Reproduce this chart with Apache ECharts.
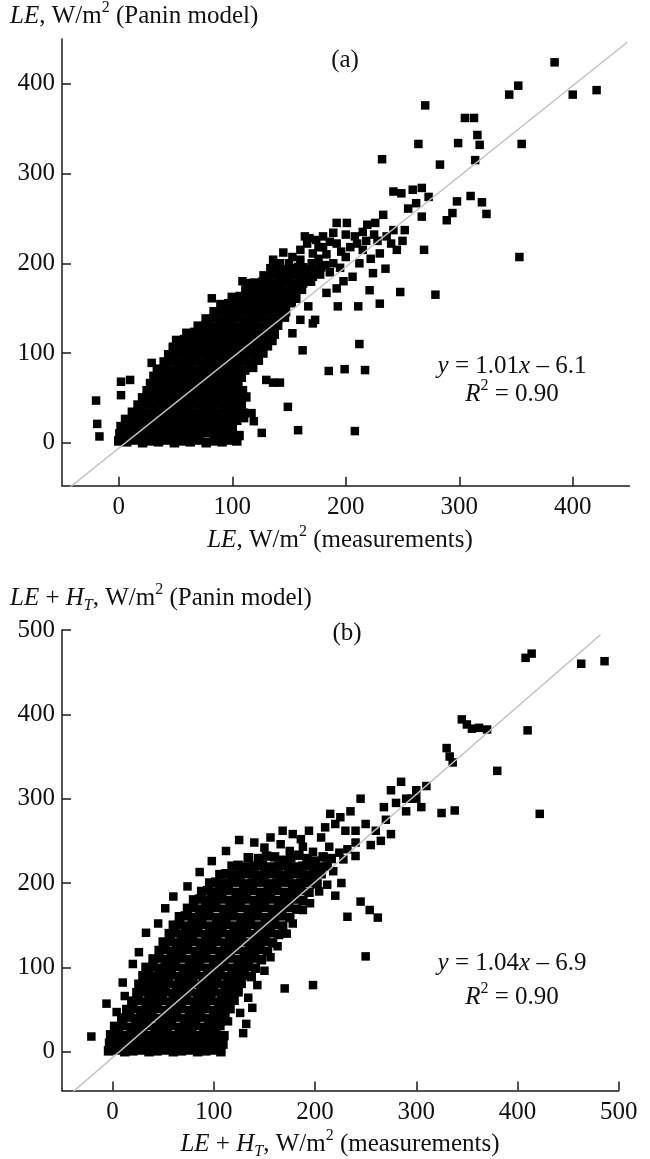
<!DOCTYPE html>
<html>
<head>
<meta charset="utf-8">
<script src="https://cdn.jsdelivr.net/npm/echarts@6/dist/echarts.min.js"></script>
<style>
  html, body { margin: 0; padding: 0; background: #fff; }
  #chart { width: 650px; height: 1159px; }
</style>
</head>
<body>
<div id="chart"></div>
<script>
// ---- tick values ----
const ticksAx = [0, 100, 200, 300, 400];
const ticksAy = [0, 100, 200, 300, 400];
const ticksBx = [0, 100, 200, 300, 400, 500];
const ticksBy = [0, 100, 200, 300, 400, 500];

// ---- fitted regression lines: [slope, intercept], drawn over [xStart, xEnd] ----
const fitA = [1.01, -6.1];
const fitB = [1.04, -6.9];
const fitSpanA = [-48, 448];
const fitSpanB = [-45, 482];

// ---- panel (a): LE, model vs measurements (W/m2) ----
// dense cloud of overlapping points
const coreA = [
  [0,2],[7,1],[14,3],[21,0],[28,2],[35,1],[42,3],[49,0],[56,2],[63,1],[70,3],[77,0],[84,2],[91,1],[98,3],[104,2],
  [1,10],[8,9],[15,11],[22,10],[29,9],[36,11],[43,10],[50,9],[57,11],[64,10],[71,9],[78,11],[85,10],[92,9],[99,11],[106,8],
  [2,18],[9,19],[16,17],[23,18],[30,19],[37,17],[44,18],[51,19],[58,17],[65,18],[72,19],[79,17],[86,18],[93,19],[100,17],
  [6,26],[13,27],[20,25],[27,26],[34,27],[41,25],[48,26],[55,27],[62,25],[69,26],[76,27],[83,25],[90,26],[97,27],[104,25],[110,28],
  [12,34],[19,35],[26,33],[33,34],[40,35],[47,33],[54,34],[61,35],[68,33],[75,34],[82,35],[89,33],[96,34],[103,35],[110,33],
  [17,42],[24,43],[31,41],[38,42],[45,43],[52,41],[59,42],[66,43],[73,41],[80,42],[87,43],[94,41],[101,42],[108,43],
  [21,50],[28,51],[35,49],[42,50],[49,51],[56,49],[63,50],[70,51],[77,49],[84,50],[91,51],[98,49],[105,50],[112,51],
  [25,58],[32,59],[39,57],[46,58],[53,59],[60,57],[67,58],[74,59],[81,57],[88,58],[95,59],[102,57],[109,58],
  [28,66],[35,67],[42,65],[49,66],[56,67],[63,65],[70,66],[77,67],[84,65],[91,66],[98,67],[105,65],
  [31,74],[38,75],[45,73],[52,74],[59,75],[66,73],[73,74],[80,75],[87,73],[94,74],[101,75],[108,73],
  [34,82],[41,83],[48,81],[55,82],[62,83],[69,81],[76,82],[83,83],[90,81],[97,82],[104,83],[111,81],[118,84],
  [40,90],[47,91],[54,89],[61,90],[68,91],[75,89],[82,90],[89,91],[96,89],[103,90],[110,91],[117,89],[123,92],
  [44,98],[51,99],[58,97],[65,98],[72,99],[79,97],[86,98],[93,99],[100,97],[107,98],[114,99],[121,97],[127,100],
  [48,106],[55,107],[62,105],[69,106],[76,107],[83,105],[90,106],[97,107],[104,105],[111,106],[118,107],[125,105],[131,108],
  [51,114],[58,115],[65,113],[72,114],[79,115],[86,113],[93,114],[100,115],[107,113],[114,114],[121,115],[128,113],[135,114],
  [60,122],[67,123],[74,121],[81,122],[88,123],[95,121],[102,122],[109,123],[116,121],[123,122],[130,123],[137,121],
  [70,130],[77,131],[84,129],[91,130],[98,131],[105,129],[112,130],[119,131],[126,129],[133,130],[140,131],
  [77,138],[84,139],[91,137],[98,138],[105,139],[112,137],[119,138],[126,139],[133,137],[140,138],[146,140],
  [84,146],[91,147],[98,145],[105,146],[112,147],[119,145],[126,146],[133,147],[140,145],[147,146],
  [90,154],[97,155],[104,153],[111,154],[118,155],[125,153],[132,154],[139,155],[146,153],[152,156],
  [100,162],[107,163],[114,161],[121,162],[128,163],[135,161],[142,162],[149,163],[156,161],
  [112,170],[119,171],[126,169],[133,170],[140,171],[147,169],[154,170],[161,171],
  [120,178],[127,179],[134,177],[141,178],[148,179],[155,177],[162,178],[169,180],
  [128,186],[135,187],[142,185],[149,186],[156,187],[163,185],[170,186],[177,188],
  [134,194],[141,195],[148,193],[155,194],[162,195],[170,193],[178,196]
];
// sparser points around the cloud
const scatterA = [
  [-20,47],[-19,21],[-17,7],[2,53],[2,68],[10,70],[29,89],[45,96],[48,107],[60,113],[77,124],
  [82,161],[92,148],[109,180],[127,159],[124,170],[162,103],[167,152],[173,137],[149,40],
  [136,67],[142,67],[130,70],[117,33],[119,24],[126,11],[158,14],[208,13],[185,80],[199,82],
  [217,81],[212,110],[160,137],[153,122],[171,133],
  [136,204],[142,200],[153,207],[160,204],[171,211],[180,218],[192,222],[204,218],[215,215],
  [230,211],[235,194],[224,189],[206,185],[198,180],[192,172],[183,167],[171,185],[160,181],
  [148,185],[139,193],[130,178],[113,178],[189,200],[212,200],[221,170],[211,152],[230,155],
  [193,152],[248,168],[279,165],[269,215],
  [145,212],[150,200],[158,196],[166,222],[170,200],[176,205],[183,210],[186,190],[195,195],
  [200,207],[210,222],[218,225],[222,205],[228,225],[236,230],[240,222],[245,215],[250,225],
  [196,213],[180,230],[186,224],[176,218],[200,232],[215,235],[225,232],[160,215],[182,198],
  [270,376],[264,333],[232,316],[283,310],[242,280],[249,278],[259,282],[267,284],[273,274],
  [262,267],[255,261],[267,252],[298,269],[289,248],[294,256],[299,334],[233,254],[226,245],
  [219,243],[252,237],[242,237],[201,245],[192,245],[189,234],[208,230],[168,228],[164,230],[174,226],
  [384,424],[344,388],[352,398],[400,388],[421,393],[355,333],[313,362],[305,362],[316,343],
  [318,332],[314,315],[310,275],[320,268],[353,207],[324,255]
];

// ---- panel (b): LE + H_T, model vs measurements (W/m2) ----
const coreB = [
  [-4,1],[4,2],[12,0],[20,1],[28,2],[36,0],[44,1],[52,2],[60,0],[68,1],[76,2],[84,0],[92,1],[100,2],[107,0],
  [-3,10],[5,11],[13,9],[21,10],[29,11],[37,9],[45,10],[53,11],[61,9],[69,10],[77,11],[85,9],[93,10],[101,11],[109,9],
  [-2,20],[6,21],[14,19],[22,20],[30,21],[38,19],[46,20],[54,21],[62,19],[70,20],[78,21],[86,19],[94,20],[102,21],[110,19],
  [2,30],[10,31],[18,29],[26,30],[34,31],[42,29],[50,30],[58,31],[66,29],[74,30],[82,31],[90,29],[98,30],[106,31],
  [9,40],[17,41],[23,39],[31,40],[39,41],[47,39],[55,40],[63,41],[71,39],[79,40],[87,41],[95,39],[103,40],[111,41],
  [14,50],[20,51],[28,49],[36,50],[44,51],[52,49],[60,50],[68,51],[76,49],[84,50],[92,51],[100,49],[108,50],[116,51],
  [19,60],[25,61],[33,59],[41,60],[49,61],[57,59],[65,60],[73,61],[81,59],[89,60],[97,61],[105,59],[113,60],[120,61],
  [24,70],[30,71],[36,69],[44,70],[52,71],[60,69],[68,70],[76,71],[84,69],[92,70],[100,71],[108,69],[116,70],[124,71],
  [26,80],[33,81],[39,79],[47,80],[55,81],[63,79],[71,80],[79,81],[87,79],[95,80],[103,81],[111,79],[119,80],[127,81],
  [30,90],[36,91],[42,89],[50,90],[58,91],[66,89],[74,90],[82,91],[90,89],[98,90],[106,91],[114,89],[122,90],[130,91],[137,89],
  [33,100],[40,101],[46,99],[54,100],[62,101],[70,99],[78,100],[86,101],[94,99],[102,100],[110,101],[118,99],[126,100],[134,101],[141,99],
  [40,110],[46,111],[52,109],[60,110],[68,111],[76,109],[84,110],[92,111],[100,109],[108,110],[116,111],[124,109],[132,110],[140,111],[147,109],
  [46,120],[52,121],[58,119],[66,120],[74,121],[82,119],[90,120],[98,121],[106,119],[114,120],[122,121],[130,119],[138,120],[146,121],[153,119],
  [50,130],[57,131],[63,129],[71,130],[79,131],[87,129],[95,130],[103,131],[111,129],[119,130],[127,131],[135,129],[143,130],[151,131],[158,129],
  [56,140],[62,141],[68,139],[76,140],[84,141],[92,139],[100,140],[108,141],[116,139],[124,140],[132,141],[140,139],[148,140],[156,141],[164,139],
  [60,150],[66,151],[72,149],[80,150],[88,151],[96,149],[104,150],[112,151],[120,149],[128,150],[136,151],[144,149],[152,150],[160,151],[168,149],
  [66,160],[72,161],[79,159],[87,160],[95,161],[103,159],[111,160],[119,161],[127,159],[135,160],[143,161],[151,159],[159,160],[167,161],[175,159],
  [74,170],[80,171],[86,169],[94,170],[102,171],[110,169],[118,170],[126,171],[134,169],[142,170],[150,171],[158,169],[166,170],[174,171],[182,169],
  [80,180],[86,181],[92,179],[100,180],[108,181],[116,179],[124,180],[132,181],[140,179],[148,180],[156,181],[164,179],[172,180],[180,181],[188,179],
  [88,190],[94,191],[98,189],[106,190],[114,191],[122,189],[130,190],[138,191],[146,189],[154,190],[162,191],[170,189],[178,190],[186,191],[194,189],
  [96,200],[102,201],[106,199],[114,200],[122,201],[130,199],[138,200],[146,201],[154,199],[162,200],[170,201],[178,199],[186,200],[194,201],[202,199],
  [106,210],[112,211],[118,209],[126,210],[134,211],[142,209],[150,210],[158,211],[166,209],[174,210],[182,211],[190,209],[198,210],[206,211],
  [118,220],[124,221],[132,219],[140,220],[148,221],[156,219],[164,220],[172,221],[180,219],[188,220],[196,221],[204,219],[212,220],
  [134,230],[144,229],[152,232],[160,231],[168,227],[176,230],[184,233],[192,229],[200,226],[208,231],[216,229]
];
const scatterB = [
  [-21,18],[-6,57],[4,47],[12,66],[10,82],[20,104],[26,118],[33,141],[45,152],[52,170],
  [60,184],[74,196],[86,213],[98,226],[112,238],[125,251],[140,248],[156,254],[168,262],[186,252],
  [114,36],[129,22],[132,33],[138,52],[126,46],[134,64],[143,79],[150,96],[156,112],
  [163,125],[172,140],[178,152],[188,168],[195,176],[204,190],[212,198],[218,214],
  [170,75],[198,79],[250,113],[254,168],[262,159],[245,178],[232,160],[220,185],[226,200],
  [150,242],[166,246],[175,238],[188,243],[198,237],[214,243],[224,236],[178,258],[194,262],[206,254],
  [210,266],[220,270],[230,262],[240,262],[225,278],[250,270],[260,262],[270,275],[280,295],
  [275,310],[285,320],[268,290],[295,300],[290,285],[300,310],[310,315],[235,285],[245,300],
  [215,282],[255,245],[265,250],[275,258],[240,248],[232,240],[228,228],[240,232],
  [325,283],[338,286],[422,282],[380,333],[410,381],[408,467],[414,472],[463,460],[486,463],
  [345,394],[350,388],[355,383],[362,384],[370,382],[330,360],[333,350],[336,343],[300,300],
  [305,290],[290,300]
];

const FONT = '"Liberation Serif", "Times New Roman", serif';
const FS = 25;

function fitLine(fit, span) {
  return span.map(x => [x, fit[0] * x + fit[1]]);
}

// rich text styles shared by all titles
const rich = {
  n: { fontFamily: FONT, fontSize: FS, lineHeight: 32, color: '#111' },
  i: { fontFamily: FONT, fontSize: FS, fontStyle: 'italic', lineHeight: 32, color: '#111' },
  sup: { fontFamily: FONT, fontSize: 16, lineHeight: 20, verticalAlign: 'top', color: '#111' },
  sub: { fontFamily: FONT, fontSize: 16, fontStyle: 'italic', lineHeight: 20, verticalAlign: 'bottom', color: '#111' }
};

function label(x, y, text, align) {
  return {
    type: 'text', x: x, y: y, z: 10,
    style: { text: text, rich: rich, align: align || 'left', verticalAlign: 'middle', fill: '#111' }
  };
}

function xAxisCfg(min, max, ticks, gridIndex) {
  return {
    type: 'value', gridIndex: gridIndex, min: min, max: max,
    splitLine: { show: false },
    axisLine: { onZero: false, lineStyle: { color: '#1a1a1a', width: 1.5 } },
    axisTick: { inside: true, length: 9, customValues: ticks, lineStyle: { color: '#1a1a1a', width: 1.5 } },
    axisLabel: { customValues: ticks, margin: 9, fontFamily: FONT, fontSize: FS, color: '#111' }
  };
}
function yAxisCfg(min, max, ticks, gridIndex) {
  return {
    type: 'value', gridIndex: gridIndex, min: min, max: max,
    splitLine: { show: false },
    axisLine: { onZero: false, lineStyle: { color: '#1a1a1a', width: 1.5 } },
    axisTick: { inside: true, length: 9, customValues: ticks, lineStyle: { color: '#1a1a1a', width: 1.5 } },
    axisLabel: { customValues: ticks, margin: 7, fontFamily: FONT, fontSize: FS, color: '#111' }
  };
}

const chart = echarts.init(document.getElementById('chart'), null, { renderer: 'canvas' });

const markStyle = { color: '#000', opacity: 1 };

function points(data, xi, size) {
  return { type: 'scatter', xAxisIndex: xi, yAxisIndex: xi, symbol: 'rect', symbolSize: size,
    itemStyle: markStyle, data: data, z: 2 };
}
function fitSeries(fit, span, xi) {
  return { type: 'line', xAxisIndex: xi, yAxisIndex: xi, data: fitLine(fit, span), symbol: 'none',
    lineStyle: { color: '#c2c2c2', width: 1.5 }, z: 3, clip: true };
}

chart.setOption({
  animation: false,
  backgroundColor: '#fff',
  grid: [
    { left: 62, right: 20.5, top: 39, bottom: 673.2 },
    { left: 62, right: 31.3, top: 630, bottom: 68.5 }
  ],
  xAxis: [
    xAxisCfg(-50, 450, ticksAx, 0),
    xAxisCfg(-50, 500, ticksBx, 1)
  ],
  yAxis: [
    yAxisCfg(-48, 450, ticksAy, 0),
    yAxisCfg(-46, 500, ticksBy, 1)
  ],
  series: [
    points(coreA, 0, 9.5),
    points(scatterA, 0, 8.5),
    fitSeries(fitA, fitSpanA, 0),
    points(coreB, 1, 9.5),
    points(scatterB, 1, 8.5),
    fitSeries(fitB, fitSpanB, 1)
  ],
  graphic: [
    label(10, 16, '{i|LE}{n|, W/m}{sup|2}{n| (Panin model)}'),
    label(345, 60, '{n|(a)}', 'center'),
    label(340, 540, '{i|LE}{n|, W/m}{sup|2}{n| (measurements)}', 'center'),
    label(512, 366, '{i|y}{n| = 1.01}{i|x}{n| – 6.1}', 'center'),
    label(512, 394, '{i|R}{sup|2}{n| = 0.90}', 'center'),

    label(10, 598, '{i|LE}{n| + }{i|H}{sub|T}{n|, W/m}{sup|2}{n| (Panin model)}'),
    label(347, 633, '{n|(b)}', 'center'),
    label(340, 1144, '{i|LE}{n| + }{i|H}{sub|T}{n|, W/m}{sup|2}{n| (measurements)}', 'center'),
    label(512, 963, '{i|y}{n| = 1.04}{i|x}{n| – 6.9}', 'center'),
    label(512, 997, '{i|R}{sup|2}{n| = 0.90}', 'center')
  ]
});
</script>
</body>
</html>
